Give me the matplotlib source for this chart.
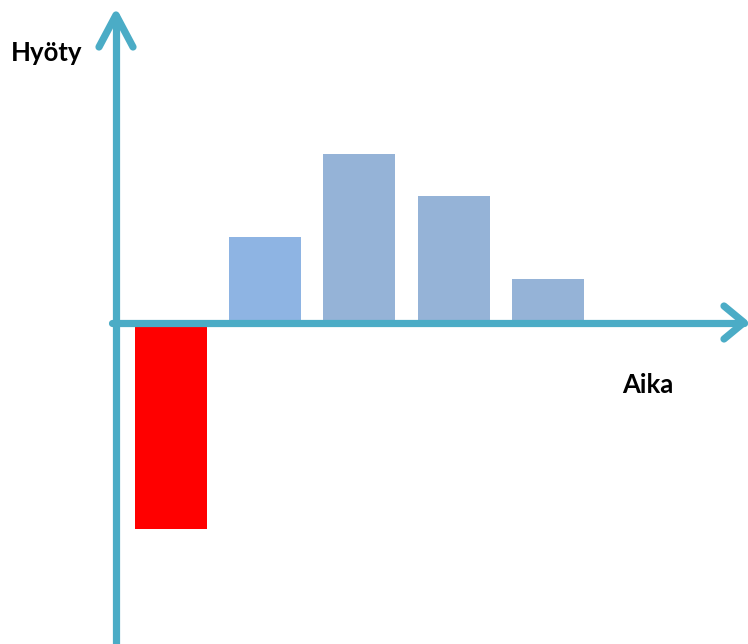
import matplotlib
matplotlib.use("Agg")
import matplotlib.pyplot as plt

periods = [0, 1, 2, 3, 4]
benefit = [-207, 85, 168, 126, 43]
bar_colors = ["#FF0000", "#8EB4E3", "#95B3D7", "#95B3D7", "#95B3D7"]
y_label = "Hyöty"
x_label = "Aika"

W, H = 748, 644
fig = plt.figure(figsize=(W / 100, H / 100), dpi=100)

# data axes: bar centres at pixel 170.5 + 94.4*i, baseline at pixel y 322
ax = fig.add_axes([0, 0, 1, 1])
x0, step = 170.5, 94.4
ax.set_xlim((0 - x0) / step, (W - x0) / step)
ax.set_ylim(-322, 322)
ax.bar(periods, benefit, width=72 / step, color=bar_colors, edgecolor="none", zorder=1)
ax.axis("off")

# overlay in pixel coordinates for the arrow axes and labels
ov = fig.add_axes([0, 0, 1, 1], facecolor="none")
ov.set_xlim(0, W)
ov.set_ylim(H, 0)
ov.axis("off")
ac = "#4BACC6"
lw = 5.2
kw = dict(color=ac, lw=lw, solid_capstyle="round", solid_joinstyle="round", zorder=3)
# y axis
ov.plot([116, 116], [H + 5, 16], **kw)
ov.plot([99, 116, 133], [47, 15, 47], **kw)
# x axis
ov.plot([112, 744], [322.5, 322.5], **kw)
ov.plot([724, 744, 724], [306, 322.5, 339], **kw)

ov.text(47, 53, y_label, ha="center", va="center", fontsize=18.5, fontweight="bold",
        family="Lato", color="black")
ov.text(648, 385, x_label, ha="center", va="center", fontsize=18.5, fontweight="bold",
        family="Lato", color="black")

fig.savefig("out.png", dpi=100)
